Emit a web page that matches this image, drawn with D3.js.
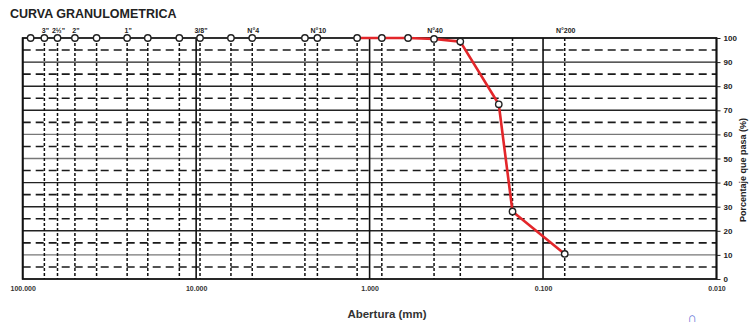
<!DOCTYPE html>
<html>
<head>
<meta charset="utf-8">
<script src="https://cdn.jsdelivr.net/npm/d3@7"></script>
<style>
  body { margin: 0; background: #fff; }
  svg { display: block; font-family: "Liberation Sans", Arial, sans-serif; }
</style>
</head>
<body>
<svg id="chart" width="752" height="324"></svg>
<script>
// sieve series (mm) and % passing
const sieveNames = ['3½"', '3"', '2½"', '2"', '1½"', '1"', '¾"', '½"', '3/8"', '¼"', 'N°4', 'N°8', 'N°10', 'N°16', 'N°20', 'N°30', 'N°40', 'N°50', 'N°80', 'N°100', 'N°200'];
const sieveSizes = [90, 75, 63, 50, 37.5, 25, 19, 12.5, 9.5, 6.3, 4.75, 2.36, 2.0, 1.18, 0.85, 0.6, 0.425, 0.3, 0.18, 0.15, 0.075];
const percentPassing = [100, 100, 100, 100, 100, 100, 100, 100, 100, 100, 100, 100, 100, 100, 100, 100, 99.6, 98.5, 72.5, 28, 10.4];

// sieves that carry a label above the chart
const labelledSieves = ['3"', '2½"', '2"', '1"', '3/8"', 'N°4', 'N°10', 'N°40', 'N°200'];
// sieves with a dotted vertical guide
const guideSieves = ['3"', '2½"', '2"', '1½"', '1"', '¾"', '½"', '3/8"', '¼"', 'N°4', 'N°8', 'N°10', 'N°16', 'N°20', 'N°40', 'N°50', 'N°100', 'N°200'];

const xDecades = [100, 10, 1, 0.1, 0.01];
const yTicks = [0, 10, 20, 30, 40, 50, 60, 70, 80, 90, 100];
const yHalfTicks = [5, 15, 25, 35, 45, 55, 65, 75, 85, 95];

const svg = d3.select("#chart");
const pLeft = 22.7, pRight = 716.5, pTop = 38, pBottom = 279;

const x = d3.scaleLog().domain([100, 0.01]).range([pLeft, pRight]);
const y = d3.scaleLinear().domain([0, 100]).range([pBottom, pTop]);

const data = sieveSizes.map((d, i) => ({ name: sieveNames[i], size: d, pct: percentPassing[i] }));
const sizeOf = name => sieveSizes[sieveNames.indexOf(name)];

// title
svg.append("text")
    .attr("x", 10).attr("y", 18)
    .attr("font-size", 12.5).attr("font-weight", "bold").attr("fill", "#222")
    .text("CURVA GRANULOMETRICA");

const g = svg.append("g");

// horizontal dashed half lines
g.selectAll(".hdash").data(yHalfTicks).join("line")
    .attr("x1", pLeft).attr("x2", pRight)
    .attr("y1", d => y(d)).attr("y2", d => y(d))
    .attr("stroke", "#1a1a1a").attr("stroke-width", 1.6)
    .attr("stroke-dasharray", "8,5");

// horizontal solid lines
g.selectAll(".hsolid").data(yTicks.slice(1, -1)).join("line")
    .attr("x1", pLeft).attr("x2", pRight)
    .attr("y1", d => y(d)).attr("y2", d => y(d))
    .attr("stroke", d => (d === 10 || d === 50 || d === 60) ? "#777" : "#222")
    .attr("stroke-width", 1.4);

// sieve dotted verticals
g.selectAll(".vsieve").data(guideSieves).join("line")
    .attr("x1", d => x(sizeOf(d))).attr("x2", d => x(sizeOf(d)))
    .attr("y1", pTop).attr("y2", pBottom)
    .attr("stroke", "#111").attr("stroke-width", 1.5)
    .attr("stroke-dasharray", "3,2");

// decade verticals
g.selectAll(".vdec").data(xDecades).join("line")
    .attr("x1", d => x(d)).attr("x2", d => x(d))
    .attr("y1", pTop).attr("y2", pBottom)
    .attr("stroke", "#111").attr("stroke-width", 1.6);

// frame
g.append("rect")
    .attr("x", pLeft).attr("y", pTop)
    .attr("width", pRight - pLeft).attr("height", pBottom - pTop)
    .attr("fill", "none").attr("stroke", "#111").attr("stroke-width", 1.8);

// x axis labels
const xAxis = svg.append("g")
    .attr("transform", "translate(0," + (pBottom + 4) + ")")
    .call(d3.axisBottom(x).tickValues(xDecades).tickSize(0).tickFormat(d3.format(".3f")));
xAxis.select(".domain").remove();
xAxis.selectAll("text")
    .attr("font-family", "Liberation Sans, Arial, sans-serif")
    .attr("font-size", 7).attr("font-weight", "bold").attr("fill", "#333");

// y axis on the right
const yAxis = svg.append("g")
    .attr("transform", "translate(" + pRight + ",0)")
    .call(d3.axisRight(y).tickValues(yTicks).tickSize(4).tickPadding(3));
yAxis.select(".domain").remove();
yAxis.selectAll("line").attr("stroke", "#222");
yAxis.selectAll("text")
    .attr("font-family", "Liberation Sans, Arial, sans-serif")
    .attr("font-size", 8).attr("font-weight", "bold").attr("fill", "#222");

// axis titles
svg.append("text")
    .attr("transform", "translate(746,170) rotate(-90)")
    .attr("text-anchor", "middle")
    .attr("font-size", 9).attr("font-weight", "bold").attr("fill", "#222")
    .text("Porcentaje que pasa (%)");

svg.append("text")
    .attr("x", 387).attr("y", 318)
    .attr("text-anchor", "middle")
    .attr("font-size", 11.5).attr("font-weight", "bold").attr("fill", "#333")
    .text("Abertura (mm)");

// sieve labels on top
svg.selectAll(".slabel").data(labelledSieves).join("text")
    .attr("x", d => x(sizeOf(d)) + 1).attr("y", 33)
    .attr("text-anchor", "middle")
    .attr("font-size", 7).attr("font-weight", "bold").attr("fill", "#222")
    .text(d => d);

// curve: coarse part on the top border, finer part in red
const line = d3.line().x(d => x(d.size)).y(d => y(d.pct));
const split = sieveNames.indexOf('N°16');

svg.append("path")
    .datum(data.slice(0, split + 1))
    .attr("fill", "none").attr("stroke", "#333").attr("stroke-width", 1.6)
    .attr("d", line);

svg.append("path")
    .datum(data.slice(split))
    .attr("fill", "none").attr("stroke", "#e3262a").attr("stroke-width", 2.6)
    .attr("stroke-linejoin", "round")
    .attr("d", line);

svg.selectAll(".pt").data(data).join("circle")
    .attr("cx", d => x(d.size)).attr("cy", d => y(d.pct))
    .attr("r", 3.2)
    .attr("fill", "#fff").attr("stroke", "#222").attr("stroke-width", 1.4);

// small blue mark in the lower corner of the scan
svg.append("text")
    .attr("x", 692).attr("y", 322)
    .attr("text-anchor", "middle")
    .attr("font-size", 13).attr("fill", "#5d6fd6")
    .text("∩");
</script>
</body>
</html>
